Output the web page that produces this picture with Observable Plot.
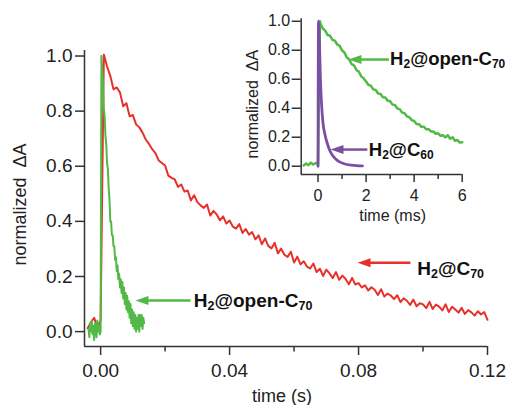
<!DOCTYPE html>
<html><head><meta charset="utf-8">
<script src="https://cdn.jsdelivr.net/npm/d3@7"></script>
<script src="https://cdn.jsdelivr.net/npm/@observablehq/plot@0.6"></script>
<style>
body{margin:0;background:#fff;}
#wrap{position:relative;width:512px;height:405px;overflow:hidden;background:#fff;}
#wrap svg{position:absolute;top:0;}
</style></head><body><div id="wrap"></div>
<script>
// ---------- main panel data (time in ms, shown as seconds) ----------
const redTimeMs = [-4,-3,-2,-1,0,1,2,3,4,5,6,7,8,9,10,11,12,13,14,15,16,17,18,19,20,21,22,23,24,25,26,27,28,29,30,31,32,33,34,35,36,37,38,39,40,41,42,43,44,45,46,47,48,49,50,51,52,53,54,55,56,57,58,59,60,61,62,63,64,65,66,67,68,69,70,71,72,73,74,75,76,77,78,79,80,81,82,83,84,85,86,87,88,89,90,91,92,93,94,95,96,97,98,99,100,101,102,103,104,105,106,107,108,109,110,111,112,113,114,115,116,117,118,119,120];
const redValue = [0.012,0.034,0.05,0.016,0.04,1.005,0.962,0.928,0.879,0.886,0.868,0.818,0.829,0.781,0.786,0.752,0.741,0.722,0.697,0.681,0.662,0.648,0.621,0.612,0.603,0.566,0.558,0.552,0.525,0.534,0.508,0.512,0.476,0.495,0.47,0.458,0.449,0.461,0.421,0.438,0.425,0.404,0.418,0.392,0.403,0.381,0.374,0.39,0.358,0.372,0.352,0.361,0.335,0.349,0.317,0.338,0.311,0.302,0.322,0.284,0.301,0.279,0.271,0.29,0.251,0.272,0.244,0.255,0.236,0.229,0.247,0.216,0.228,0.202,0.225,0.211,0.194,0.216,0.188,0.203,0.191,0.172,0.195,0.171,0.176,0.16,0.168,0.149,0.161,0.152,0.133,0.154,0.127,0.138,0.131,0.118,0.132,0.107,0.121,0.112,0.097,0.116,0.092,0.103,0.099,0.085,0.108,0.082,0.098,0.091,0.077,0.099,0.071,0.09,0.08,0.069,0.086,0.064,0.078,0.07,0.058,0.074,0.062,0.071,0.043];
const greenTimeMs = [-3.75,-3.5,-3.25,-3,-2.75,-2.5,-2.25,-2,-1.75,-1.5,-1.25,-1,-0.75,-0.5,-0.25,0,0.25,0.5,0.75,1,1.25,1.5,1.75,2,2.25,2.5,2.75,3,3.25,3.5,3.75,4,4.25,4.5,4.75,5,5.25,5.5,5.75,6,6.25,6.5,6.75,7,7.25,7.5,7.75,8,8.25,8.5,8.75,9,9.25,9.5,9.75,10,10.25,10.5,10.75,11,11.25,11.5,11.75,12,12.25,12.5,12.75,13,13.25,13.5];
const greenValue = [0.01,-0.02,0.03,0.0,0.04,-0.01,0.02,-0.03,0.03,0.01,-0.02,0.04,0.0,0.02,-0.01,0.0,1.0,0.95,0.9,0.81,0.78,0.71,0.68,0.61,0.59,0.52,0.48,0.40,0.40,0.35,0.35,0.31,0.31,0.26,0.27,0.22,0.24,0.19,0.21,0.16,0.19,0.14,0.18,0.12,0.16,0.10,0.14,0.08,0.13,0.07,0.11,0.05,0.10,0.03,0.08,0.02,0.07,0.01,0.06,0.0,0.05,0.01,0.06,0.0,0.06,0.02,0.06,0.01,0.05,0.03];
const mainXTicks = [0, 40, 80, 120];
const mainXMinor = [20, 60, 100];
const mainYTicks = [0, 0.2, 0.4, 0.6, 0.8, 1.0];
const mainLabels = ["H{2}@C{70}", "H{2}@open-C{70}"];
const mainLabelColors = ["#e8302a", "#52b948"];

// ---------- inset data (time in ms) ----------
const insetGreenTime = [-0.6,-0.5,-0.4,-0.3,-0.2,-0.1,0.0,0.08,0.1,0.2,0.3,0.4,0.5,0.6,0.7,0.8,0.9,1.0,1.1,1.2,1.3,1.4,1.5,1.6,1.7,1.8,1.9,2.0,2.1,2.2,2.3,2.4,2.5,2.6,2.7,2.8,2.9,3.0,3.1,3.2,3.3,3.4,3.5,3.6,3.7,3.8,3.9,4.0,4.1,4.2,4.3,4.4,4.5,4.6,4.7,4.8,4.9,5.0,5.1,5.2,5.3,5.4,5.5,5.6,5.7,5.8,5.9,6.0];
const insetGreenValue = [0.005,0.018,0.008,0.025,0.012,0.022,0.015,1.0,0.985,0.95,0.935,0.905,0.9,0.872,0.866,0.84,0.83,0.798,0.784,0.75,0.736,0.704,0.695,0.664,0.652,0.62,0.606,0.584,0.56,0.556,0.53,0.526,0.502,0.499,0.476,0.474,0.452,0.448,0.425,0.422,0.398,0.394,0.37,0.366,0.344,0.338,0.318,0.312,0.291,0.29,0.272,0.273,0.255,0.256,0.24,0.24,0.224,0.227,0.21,0.214,0.199,0.215,0.19,0.2,0.176,0.181,0.163,0.165];
const insetPurpleTime = [0.0,0.02,0.06,0.1,0.15,0.2,0.3,0.4,0.5,0.6,0.7,0.8,0.9,1.0,1.2,1.4,1.6,1.85];
const insetPurpleValue = [0.0,1.0,0.85,0.6,0.42,0.31,0.21,0.15,0.105,0.076,0.056,0.041,0.03,0.022,0.012,0.007,0.004,0.002];
const insetXTicks = [0, 2, 4, 6];
const insetXMinor = [1, 3, 5];
const insetYTicks = [0, 0.2, 0.4, 0.6, 0.8, 1.0];
const insetLabels = ["H{2}@open-C{70}", "H{2}@C{60}"];
const insetLabelColors = ["#52b948", "#7a4fa3"];

// ---------- build ----------
const FONT = '"Liberation Sans", Arial, Helvetica, sans-serif';
const RED = "#e8302a", GREEN = "#52b948", PURPLE = "#7a4fa3", AXIS = "#333";
const rows = (t, v) => t.map((d, i) => ({t: d, v: v[i]}));

// annotation placement (data units)
const mainNotes = [
  {label: mainLabels[0], color: mainLabelColors[0], tail: 96.1, tip: 79.7, shaft: 83.5, ay: 0.25, lx: 98.2, ly: 0.228},
  {label: mainLabels[1], color: mainLabelColors[1], tail: 27.9, tip: 10.8, shaft: 14.6, ay: 0.113, lx: 28.9, ly: 0.112}
];
const insetNotes = [
  {label: insetLabels[0], color: insetLabelColors[0], tail: 2.95, tip: 1.268, shaft: 1.72, ay: 0.736, lx: 3.0, ly: 0.736},
  {label: insetLabels[1], color: insetLabelColors[1], tail: 2.05, tip: 0.519, shaft: 0.97, ay: 0.115, lx: 2.113, ly: 0.112}
];
const headLeft = {draw(ctx) { ctx.moveTo(0, 0); ctx.lineTo(13, -4.5); ctx.lineTo(13, 4.5); ctx.closePath(); }};

function arrowMarks(notes) {
  return [
    Plot.link(notes, {x1: "tail", x2: "shaft", y1: "ay", y2: "ay", stroke: "color", strokeWidth: 2.5}),
    Plot.dot(notes, {x: "tip", y: "ay", symbol: headLeft, fill: "color", stroke: "none"}),
    Plot.text(notes, {x: "lx", y: "ly", text: "label", textAnchor: "start", lineAnchor: "middle", fontWeight: "bold", fill: "#111"})
  ];
}

const main = Plot.plot({
  width: 512, height: 405,
  marginLeft: 84, marginRight: 25, marginTop: 50, marginBottom: 59,
  x: {domain: [-5, 120]},
  y: {domain: [-0.054, 1.02]},
  style: {fontFamily: FONT, fontSize: "19px", color: "#222", background: "transparent"},
  marks: [
    Plot.axisX(mainXTicks, {tickSize: 9, tickPadding: 8, tickFormat: d => (d / 1000).toFixed(2), label: null, fontSize: 19, strokeWidth: 1.5, stroke: AXIS}),
    Plot.axisX(mainXMinor, {tickSize: 5.5, tickFormat: () => "", label: null, strokeWidth: 1.5, stroke: AXIS}),
    Plot.axisY(mainYTicks, {tickSize: 9, tickPadding: 3, tickFormat: ".1f", label: null, fontSize: 19, strokeWidth: 1.5, stroke: AXIS}),
    Plot.ruleX([-5], {stroke: AXIS, strokeWidth: 1.5}),
    Plot.ruleY([-0.054], {stroke: AXIS, strokeWidth: 1.5}),
    Plot.line(rows(redTimeMs, redValue), {x: "t", y: "v", stroke: RED, strokeWidth: 2}),
    Plot.line(rows(greenTimeMs, greenValue), {x: "t", y: "v", stroke: GREEN, strokeWidth: 2}),
    ...arrowMarks(mainNotes),
    Plot.text(["time (s)"], {frameAnchor: "bottom", dy: 50, dx: -4, lineAnchor: "middle", fontSize: 18, fill: "#222"}),
    Plot.text(["normalized\u00a0\u00a0ΔA"], {frameAnchor: "left", textAnchor: "middle", rotate: -90, dx: -64, dy: 6, lineAnchor: "middle", fontSize: 18, fill: "#222"})
  ]
});

const inset = Plot.plot({
  width: 282, height: 230,
  marginLeft: 70.7, marginRight: 50.3, marginTop: 18.3, marginBottom: 56,
  x: {domain: [-0.7, 6]},
  y: {domain: [-0.057, 1.017]},
  style: {fontFamily: FONT, fontSize: "16px", color: "#222", background: "transparent"},
  marks: [
    Plot.axisX(insetXTicks, {tickSize: 8, tickPadding: 7, tickFormat: d => String(d), label: null, fontSize: 16, strokeWidth: 1.5, stroke: AXIS}),
    Plot.axisX(insetXMinor, {tickSize: 5, tickFormat: () => "", label: null, strokeWidth: 1.5, stroke: AXIS}),
    Plot.axisY(insetYTicks, {tickSize: 9, tickPadding: 2, tickFormat: ".1f", label: null, fontSize: 16, strokeWidth: 1.5, stroke: AXIS}),
    Plot.ruleX([-0.7], {stroke: AXIS, strokeWidth: 1.5}),
    Plot.ruleY([-0.057], {stroke: AXIS, strokeWidth: 1.5}),
    Plot.line(rows(insetGreenTime, insetGreenValue), {x: "t", y: "v", stroke: GREEN, strokeWidth: 2.5}),
    Plot.line(rows(insetPurpleTime, insetPurpleValue), {x: "t", y: "v", stroke: PURPLE, strokeWidth: 2.8, curve: "monotone-x"}),
    ...arrowMarks(insetNotes),
    Plot.text(["time (ms)"], {frameAnchor: "bottom", dy: 41, dx: 11, lineAnchor: "middle", fontSize: 16, fill: "#222"}),
    Plot.text(["normalized\u00a0\u00a0ΔA"], {frameAnchor: "left", textAnchor: "middle", rotate: -90, dx: -48, dy: 7.5, lineAnchor: "middle", fontSize: 16, fill: "#222"})
  ]
});

// subscripts for chemical formulae: "{..}" marks a subscript
function subscriptify(svg, baseSize, subSize, shift) {
  d3.select(svg).selectAll("text").each(function () {
    const t = this.textContent;
    if (!t.includes("{")) return;
    const parts = t.split(/(\{[^}]*\})/).filter(s => s);
    const sel = d3.select(this).text(null).attr("font-size", baseSize);
    let down = false;
    for (const p of parts) {
      if (p.startsWith("{")) {
        sel.append("tspan").attr("font-size", subSize).attr("dy", down ? 0 : shift).text(p.slice(1, -1));
        down = true;
      } else {
        sel.append("tspan").attr("dy", down ? -shift : 0).text(p);
        down = false;
      }
    }
  });
}
subscriptify(main, 19, 12.5, 3);
subscriptify(inset, 18.5, 12, 3);

main.style.left = "0px";
inset.style.left = "230px";
const wrap = document.getElementById("wrap");
wrap.appendChild(main);
wrap.appendChild(inset);
</script></body></html>
